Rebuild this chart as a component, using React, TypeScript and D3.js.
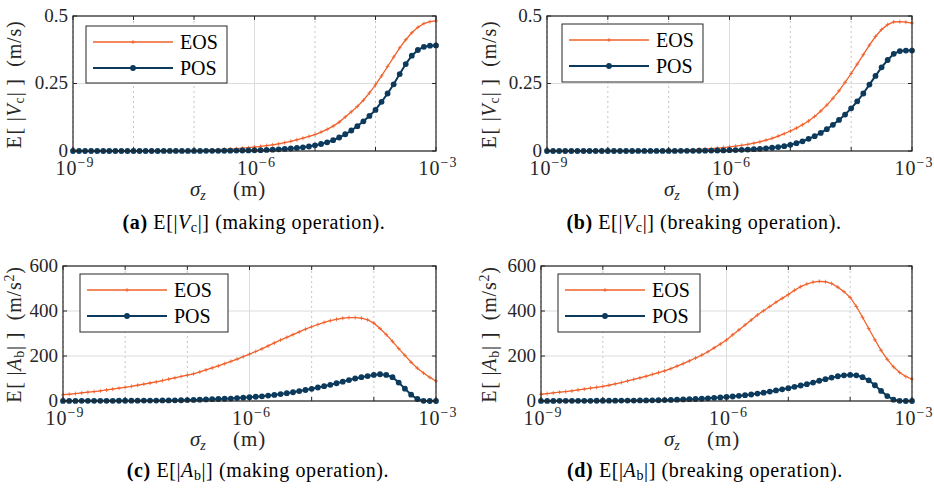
import * as d3 from 'd3'

// sigma_z sample points, 10 per decade from 1e-9 to 1e-3
const sigma = d3.range(61).map(i => Math.pow(10, -9 + i / 10))
const decades = [-9, -8, -7, -6, -5, -4, -3]
const labelledDecades = [-9, -6, -3]
const vcTicks = [0, 0.25, 0.5]
const abTicks = [0, 200, 400, 600]

// (a) E[|Vc|], making operation
const eosVcMaking = [
  0, 0, 0, 0, 0, 0, 0, 0, 0, 0.0001,
  0.0002, 0.0002, 0.0003, 0.0004, 0.0005, 0.0006, 0.0008, 0.001, 0.0012, 0.0016,
  0.002, 0.0025, 0.003, 0.0037, 0.0046, 0.0057, 0.007, 0.0085, 0.0103, 0.0123,
  0.0145, 0.017, 0.0198, 0.023, 0.0267, 0.031, 0.036, 0.0415, 0.0475, 0.054,
  0.061, 0.07, 0.08, 0.092, 0.107, 0.126, 0.145, 0.165, 0.188, 0.215,
  0.245, 0.278, 0.313, 0.348, 0.382, 0.412, 0.438, 0.458, 0.472, 0.479, 0.482,
]
const posVcMaking = [
  0, 0, 0, 0, 0, 0, 0, 0, 0, 0,
  0, 0, 0, 0, 0, 0.0001, 0.0001, 0.0001, 0.0002, 0.0002,
  0.0003, 0.0004, 0.0005, 0.0006, 0.0008, 0.001, 0.0012, 0.0015, 0.0018, 0.0021,
  0.0025, 0.0032, 0.004, 0.005, 0.0062, 0.0076, 0.0093, 0.0113, 0.0137, 0.0166,
  0.021, 0.026, 0.032, 0.04, 0.05, 0.062, 0.076, 0.092, 0.11, 0.13,
  0.152, 0.182, 0.213, 0.247, 0.285, 0.322, 0.353, 0.374, 0.386, 0.39, 0.391,
]

// (b) E[|Vc|], breaking operation
const eosVcBreaking = [
  0, 0, 0, 0, 0, 0, 0, 0, 0, 0.0001,
  0.0002, 0.0002, 0.0003, 0.0004, 0.0005, 0.0006, 0.0008, 0.001, 0.0013, 0.0016,
  0.002, 0.0025, 0.0031, 0.0038, 0.0047, 0.0058, 0.0071, 0.0087, 0.0106, 0.0128,
  0.015, 0.0178, 0.021, 0.0246, 0.029, 0.034, 0.04, 0.047, 0.055, 0.064,
  0.074, 0.085, 0.097, 0.111, 0.128, 0.148, 0.17, 0.195, 0.223, 0.254,
  0.287, 0.322, 0.357, 0.392, 0.424, 0.45, 0.468, 0.478, 0.479, 0.477, 0.474,
]
const posVcBreaking = [
  0, 0, 0, 0, 0, 0, 0, 0, 0, 0,
  0, 0, 0, 0, 0, 0.0001, 0.0001, 0.0001, 0.0002, 0.0002,
  0.0003, 0.0004, 0.0005, 0.0006, 0.0008, 0.001, 0.0012, 0.0015, 0.0018, 0.0022,
  0.003, 0.0036, 0.0044, 0.0054, 0.0066, 0.008, 0.0098, 0.012, 0.0146, 0.0178,
  0.023, 0.029, 0.036, 0.045, 0.055, 0.067, 0.081, 0.097, 0.115, 0.135,
  0.158, 0.184, 0.213, 0.246, 0.278, 0.31, 0.337, 0.36, 0.37, 0.372, 0.372,
]

// (c) E[|Ab|], making operation
const eosAbMaking = [
  28, 30, 33, 36, 39, 42, 45, 49, 53, 57,
  61, 65, 70, 75, 80, 85, 91, 97, 103, 109,
  115, 121, 129, 138, 147, 156, 166, 176, 186, 197,
  208, 220, 232, 245, 258, 271, 283, 295, 307, 319,
  330, 340, 349, 357, 363, 368, 371, 371, 368, 361,
  346, 322, 295, 265, 233, 203, 172, 146, 124, 105, 89,
]
const posAbMaking = [
  0.5, 0.5, 0.5, 0.6, 0.6, 0.7, 0.8, 0.9, 1, 1.1,
  1.2, 1.4, 1.5, 1.7, 1.9, 2.1, 2.4, 2.7, 3, 3.4,
  4, 5, 6, 7, 8, 9, 10, 11, 13, 15,
  17, 19, 21, 24, 27, 31, 35, 39, 44, 49,
  54, 60, 66, 72, 79, 86, 93, 100, 106, 111,
  116, 119, 116, 106, 82, 55, 28, 9, 1, 0, 0,
]

// (d) E[|Ab|], breaking operation
const eosAbBreaking = [
  30, 33, 36, 39, 42, 45, 49, 53, 57, 61,
  65, 70, 76, 82, 89, 96, 103, 110, 118, 126,
  134, 144, 155, 166, 178, 191, 204, 219, 236, 253,
  271, 294, 316, 338, 360, 382, 401, 420, 439, 456,
  473, 492, 508, 520, 528, 532, 530, 522, 506, 486,
  460, 420, 372, 322, 272, 225, 185, 152, 127, 109, 97,
]
const posAbBreaking = [
  0.5, 0.5, 0.5, 0.6, 0.6, 0.7, 0.8, 0.9, 1, 1.1,
  1.2, 1.4, 1.5, 1.7, 1.9, 2.1, 2.4, 2.7, 3, 3.4,
  4, 5, 6, 7, 8, 9, 10, 12, 14, 16,
  18, 20, 23, 26, 29, 33, 37, 42, 47, 52,
  57, 63, 69, 75, 82, 90, 97, 104, 110, 114,
  116, 114, 106, 92, 70, 45, 22, 6, 1, 0, 0,
]

const FONT = '"Liberation Serif", "DejaVu Serif", serif'
const EOS_COLOR = '#f0602a'
const POS_COLOR = '#0c3a5c'
const AXIS = '#262626'

function VcLabel() {
  return (
    <>
      E<tspan dx="1">[</tspan> |<tspan fontStyle="italic">V</tspan>
      <tspan dy="3" fontSize="14">c</tspan>
      <tspan dy="-3">| ]  (m/s)</tspan>
    </>
  )
}

function AbLabel() {
  return (
    <>
      E<tspan dx="1">[</tspan> |<tspan fontStyle="italic">A</tspan>
      <tspan dy="3" fontSize="14">b</tspan>
      <tspan dy="-3">| ]  (m/s</tspan>
      <tspan dy="-7" fontSize="14">2</tspan>
      <tspan dy="7">)</tspan>
    </>
  )
}

function Panel({ box, yMax, yTicks, eos, pos, legend, yLabel, yLabelX, xLabelX, caption, captionX, captionY }) {
  const x = d3.scaleLog().domain([1e-9, 1e-3]).range([box.left, box.right])
  const y = d3.scaleLinear().domain([0, yMax]).range([box.bottom, box.top])
  const line = d3.line<number>().x((_, i) => x(sigma[i])).y(d => y(d))
  const fmt = (v: number) => String(v)

  return (
    <g fontFamily={FONT}>
      {/* grid */}
      {decades.map(dec => (
        <line
          key={'gx' + dec}
          x1={x(Math.pow(10, dec))}
          x2={x(Math.pow(10, dec))}
          y1={box.top}
          y2={box.bottom}
          stroke={dec === -6 ? '#dcdcdc' : '#c4c4c4'}
          strokeWidth={1}
          strokeDasharray={dec === -6 ? undefined : '2,3'}
        />
      ))}
      {yTicks.map(t => (
        <line key={'gy' + t} x1={box.left} x2={box.right} y1={y(t)} y2={y(t)} stroke="#dcdcdc" strokeWidth={1} />
      ))}

      {/* series */}
      <path d={line(eos) ?? ''} fill="none" stroke={EOS_COLOR} strokeWidth={1.3} />
      {eos.map((d, i) => (
        <path
          key={'e' + i}
          d={`M${x(sigma[i]) - 2},${y(d)}h4M${x(sigma[i])},${y(d) - 2}v4`}
          stroke={EOS_COLOR}
          strokeWidth={0.8}
        />
      ))}
      <path d={line(pos) ?? ''} fill="none" stroke={POS_COLOR} strokeWidth={2} />
      {pos.map((d, i) => (
        <circle key={'p' + i} cx={x(sigma[i])} cy={y(d)} r={2.9} fill={POS_COLOR} />
      ))}

      {/* box and ticks */}
      <rect x={box.left} y={box.top} width={box.right - box.left} height={box.bottom - box.top} fill="none" stroke={AXIS} strokeWidth={1.2} />
      {decades.map(dec => (
        <g key={'tx' + dec}>
          <line x1={x(Math.pow(10, dec))} x2={x(Math.pow(10, dec))} y1={box.bottom} y2={box.bottom - 4} stroke={AXIS} />
          <line x1={x(Math.pow(10, dec))} x2={x(Math.pow(10, dec))} y1={box.top} y2={box.top + 4} stroke={AXIS} />
        </g>
      ))}
      {yTicks.map(t => (
        <g key={'ty' + t}>
          <line x1={box.left} x2={box.left + 4} y1={y(t)} y2={y(t)} stroke={AXIS} />
          <line x1={box.right} x2={box.right - 4} y1={y(t)} y2={y(t)} stroke={AXIS} />
          <text x={box.left - 5} y={y(t)} dy="0.3em" textAnchor="end" fontSize={19} fill={AXIS}>
            {fmt(t)}
          </text>
        </g>
      ))}
      {labelledDecades.map(dec => (
        <text
          key={'lx' + dec}
          x={x(Math.pow(10, dec)) + 2}
          y={box.bottom + 24}
          textAnchor="middle"
          fontSize={20}
          letterSpacing={1}
          fill={AXIS}
        >
          10<tspan dy="-8" fontSize={14}>{'\u2212' + Math.abs(dec)}</tspan>
        </text>
      ))}

      {/* axis labels */}
      <text x={xLabelX - 45} y={box.bottom + 45} fontSize={21} fill={AXIS}>
        <tspan fontStyle="italic">σ</tspan>
        <tspan dy="4" fontSize={14} fontStyle="italic">z</tspan>
        <tspan x={xLabelX - 2} dy="-4" letterSpacing={1}>(m)</tspan>
      </text>
      <text
        transform={`translate(${yLabelX},${(box.top + box.bottom) / 2 + 1}) rotate(-90)`}
        textAnchor="middle"
        fontSize={20}
        letterSpacing={0.8}
        fill={AXIS}
        style={{ whiteSpace: 'pre' }}
      >
        {yLabel}
      </text>

      {/* legend */}
      <rect x={legend.x} y={legend.y} width={legend.w} height={legend.h} fill="#fff" stroke={AXIS} strokeWidth={1} />
      <line x1={legend.x + 7} x2={legend.x + 87} y1={legend.y + 16} y2={legend.y + 16} stroke={EOS_COLOR} strokeWidth={1.3} />
      <path
        d={`M${legend.x + 45},${legend.y + 16}h4M${legend.x + 47},${legend.y + 14}v4`}
        stroke={EOS_COLOR}
        strokeWidth={0.8}
      />
      <text x={legend.x + 94} y={legend.y + 16} dy="0.35em" fontSize={20} fill="#000">EOS</text>
      <line x1={legend.x + 7} x2={legend.x + 87} y1={legend.y + 42} y2={legend.y + 42} stroke={POS_COLOR} strokeWidth={2} />
      <circle cx={legend.x + 47} cy={legend.y + 42} r={2.9} fill={POS_COLOR} />
      <text x={legend.x + 94} y={legend.y + 42} dy="0.35em" fontSize={20} fill="#000">POS</text>

      {/* caption */}
      <text x={captionX} y={captionY} textAnchor="middle" fontSize={20} letterSpacing={0.6} fill="#000">
        {caption}
      </text>
    </g>
  )
}

function Caption({ tag, sym, sub, op }) {
  return (
    <>
      <tspan fontWeight="bold">({tag})</tspan> E[|<tspan fontStyle="italic">{sym}</tspan>
      <tspan dy="3" fontSize="14">{sub}</tspan>
      <tspan dy="-3">|] ({op} operation).</tspan>
    </>
  )
}

export default function App() {
  return (
    <svg width={934} height={491} style={{ position: 'absolute', left: 0, top: 0, background: '#fff' }}>
      <Panel
        box={{ left: 73, right: 436, top: 16, bottom: 151 }}
        yMax={0.5}
        yTicks={vcTicks}
        eos={eosVcMaking}
        pos={posVcMaking}
        legend={{ x: 86, y: 26, w: 141, h: 57 }}
        yLabel={<VcLabel />}
        yLabelX={21}
        xLabelX={235}
        caption={<Caption tag="a" sym="V" sub="c" op="making" />}
        captionX={254}
        captionY={229}
      />
      <Panel
        box={{ left: 547, right: 912, top: 16, bottom: 151 }}
        yMax={0.5}
        yTicks={vcTicks}
        eos={eosVcBreaking}
        pos={posVcBreaking}
        legend={{ x: 562, y: 24, w: 141, h: 58 }}
        yLabel={<VcLabel />}
        yLabelX={496}
        xLabelX={709}
        caption={<Caption tag="b" sym="V" sub="c" op="breaking" />}
        captionX={704}
        captionY={229}
      />
      <Panel
        box={{ left: 63, right: 436, top: 266, bottom: 401 }}
        yMax={600}
        yTicks={abTicks}
        eos={eosAbMaking}
        pos={posAbMaking}
        legend={{ x: 80, y: 274, w: 148, h: 58 }}
        yLabel={<AbLabel />}
        yLabelX={21}
        xLabelX={235}
        caption={<Caption tag="c" sym="A" sub="b" op="making" />}
        captionX={258}
        captionY={477}
      />
      <Panel
        box={{ left: 541, right: 912, top: 266, bottom: 401 }}
        yMax={600}
        yTicks={abTicks}
        eos={eosAbBreaking}
        pos={posAbBreaking}
        legend={{ x: 558, y: 274, w: 142, h: 58 }}
        yLabel={<AbLabel />}
        yLabelX={496}
        xLabelX={709}
        caption={<Caption tag="d" sym="A" sub="b" op="breaking" />}
        captionX={705}
        captionY={477}
      />
    </svg>
  )
}
